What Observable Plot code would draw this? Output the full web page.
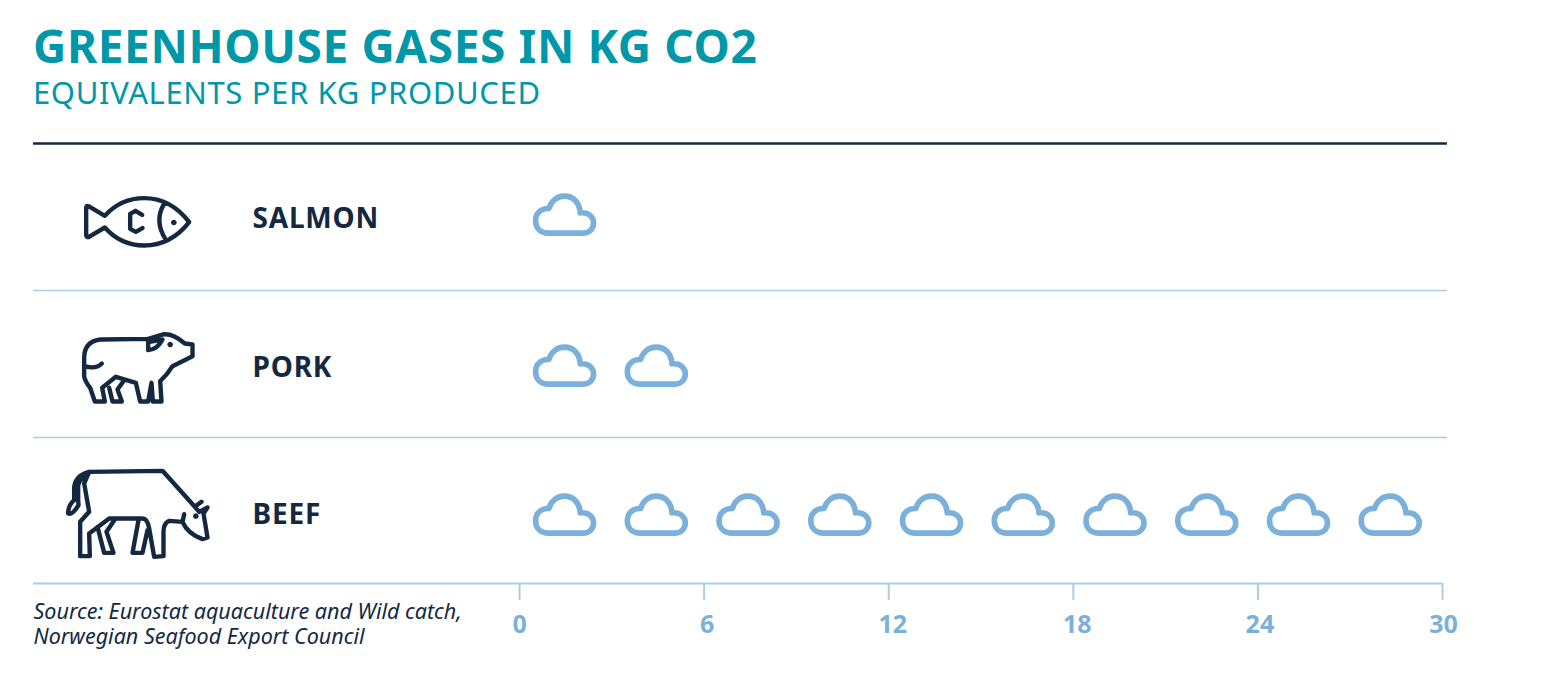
<!DOCTYPE html>
<html>
<head>
<meta charset="utf-8">
<script src="https://cdn.jsdelivr.net/npm/d3@7"></script>
<script src="https://cdn.jsdelivr.net/npm/@observablehq/plot@0.6"></script>
<style>
html,body{margin:0;padding:0;background:#fff;width:1560px;height:676px;overflow:hidden;font-family:"Noto Sans",sans-serif}
#t{position:absolute;left:33px;top:14px;font-size:46px;font-weight:700;color:#0097a9;line-height:62px;white-space:nowrap;letter-spacing:.6px}
#s{position:absolute;left:33px;top:72px;font-size:31px;font-weight:400;color:#0097a9;line-height:40px;white-space:nowrap;letter-spacing:.63px}
#c{position:absolute;left:0;top:130px}
</style>
</head>
<body>
<div id="t">GREENHOUSE GASES IN KG CO2</div>
<div id="s">EQUIVALENTS PER KG PRODUCED</div>
<div id="c"></div>
<script>
const categories = ["SALMON", "PORK", "BEEF"];
const values = [3, 6, 30];
const tickValues = [0, 6, 12, 18, 24, 30];
const unitPerCloud = 3;
const caption = "Source: Eurostat aquaculture and Wild catch,\nNorwegian Seafood Export Council";

const dark = "#14293f", rule = "#a9cde6", blue = "#7bb0da";

// Icon outlines, written in a 3x drawing space around each icon's centre
function icon(cx, cy, d) {
  const t = d.match(/[MLQCZ]|-?[\d.]+/g);
  return {draw(ctx) {
    let i = 0;
    const X = () => (+t[i++] - cx) / 3, Y = () => (+t[i++] - cy) / 3;
    while (i < t.length) {
      const c = t[i++];
      if (c === "M") ctx.moveTo(X(), Y());
      else if (c === "L") ctx.lineTo(X(), Y());
      else if (c === "Q") ctx.quadraticCurveTo(X(), Y(), X(), Y());
      else if (c === "C") ctx.bezierCurveTo(X(), Y(), X(), Y(), X(), Y());
      else ctx.closePath();
    }
  }};
}
const dotAt = (x, y) => ` M ${x - 2} ${y} L ${x + 2} ${y} M ${x} ${y - 2} L ${x} ${y + 2}`;

const cloud = icon(163, 100, "M 115 156 C 90 156 76 140 76 118 C 76 95 95 80 116 82 C 122 60 140 45 162 45 C 190 45 208 65 210 95 C 235 92 250 108 250 125 C 250 145 235 156 218 156 Z");
const fish = icon(290, 150, "M 143 104 L 192 133 Q 240 80 310 80 Q 390 80 445 152 Q 390 222 310 222 Q 240 222 192 168 L 143 197 Q 136 198 136 190 L 136 110 Q 136 101 143 104 Z M 368 100 Q 340 150 375 205 M 304 130 L 284 118 L 268 127 L 268 172 L 285 181 L 305 170" + dotAt(399, 153));
const pig = icon(290, 150, "M 322 58 L 180 60 Q 130 65 130 115 L 130 170 Q 132 185 148 205 L 162 246 L 192 246 L 184 205 L 225 172 L 285 190 L 298 246 L 322 246 L 332 190 L 336 246 L 362 246 L 358 185 Q 380 165 395 140 L 455 110 L 455 75 L 432 72 Q 395 40 365 45 L 322 58 L 322 92 Q 350 90 365 60 L 322 68 M 130 140 Q 165 150 183 132 M 205 205 L 215 246 L 243 246 L 230 210 L 250 182" + dotAt(388, 75));
const cow = icon(290, 190, "M 145 65 L 365 62 L 462 170 L 482 155 M 475 185 L 500 172 L 488 190 L 500 262 L 485 267 Q 440 250 425 215 L 430 192 M 425 215 L 385 212 Q 368 220 368 245 L 368 318 L 340 320 L 325 235 Q 320 205 305 205 L 205 205 L 145 250 L 147 318 L 118 318 L 118 215 L 145 185 L 130 100 L 145 65 Q 105 75 100 110 L 100 150 Q 82 165 82 190 Q 95 195 113 165 L 112 150 L 112 105 Q 118 85 145 65 M 170 230 L 190 308 L 218 308 L 197 245 L 222 208 M 293 210 L 275 308 L 305 308 L 320 240 M 462 170 L 475 185" + dotAt(465, 198));
const icons = [fish, pig, cow];

const rows = categories.map((name, row) => ({name, row, symbol: icons[row]}));
const clouds = categories.flatMap((name, row) =>
  d3.range(values[row] / unitPerCloud).map(i => ({row, i})));

const xStart = -15.8, xRuleEnd = 30.16;
const boundaries = [-0.49, 0.497, 1.483];
const axisLine = 2.463;

// Small per-row and per-tick nudges that the source artwork has
const cloudFirst = 1.463, cloudStep = 2.982;
const cloudDy = [-2, 0, 0];
const labelDy = [3, 3, 1];
const iconOffset = [{dx: 104, dy: 5}, {dx: 104, dy: 4}, {dx: 104, dy: -1}];
const tickLabelDx = [0, 3, 4, 4, 2, 1];

const chart = Plot.plot({
  width: 1560, height: 546,
  marginLeft: 33, marginRight: 118, marginTop: 0, marginBottom: 93,
  x: {domain: [xStart, 30]},
  y: {axis: null, domain: [0, 2], range: [86, 384]},
  style: {fontFamily: '"Noto Sans",sans-serif', background: "transparent", overflow: "visible"},
  marks: [
    Plot.ruleY(boundaries.slice(0, 1), {x1: xStart, x2: xRuleEnd, stroke: dark, strokeWidth: 2.6}),
    Plot.ruleY(boundaries.slice(1), {x1: xStart, x2: xRuleEnd, stroke: rule, strokeWidth: 1.6}),
    Plot.ruleY([axisLine], {x1: xStart, x2: 30, stroke: rule, strokeWidth: 2}),
    ...rows.map((r, i) => Plot.dot([r], {
      x: () => xStart, y: "row", symbol: r.symbol,
      dx: iconOffset[i].dx, dy: iconOffset[i].dy,
      stroke: dark, strokeWidth: 4.4, strokeLinejoin: "round", strokeLinecap: "round", fill: "none"
    })),
    ...rows.map((r, i) => Plot.text([r], {
      x: () => xStart, y: "row", text: "name", dx: 219, dy: labelDy[i],
      textAnchor: "start", fill: dark, fontWeight: 700, fontSize: 28
    })),
    ...categories.map((c, row) => Plot.dot(clouds.filter(d => d.row === row), {
      x: d => cloudFirst + d.i * cloudStep, y: "row", symbol: cloud, dy: cloudDy[row],
      stroke: blue, strokeWidth: 5.6, strokeLinejoin: "round", fill: "none"
    })),
    Plot.axisX(tickValues, {
      anchor: "bottom", tickSize: 17, tickFormat: () => "", label: null,
      stroke: rule, strokeWidth: 2
    }),
    ...tickValues.map((v, i) => Plot.text([v], {
      x: d => d, y: () => axisLine, dy: 42, dx: tickLabelDx[i],
      text: d => String(d), fill: blue, fontSize: 25, fontWeight: 700
    })),
    Plot.text([caption], {
      x: () => xStart, y: () => axisLine, dy: 18,
      textAnchor: "start", lineAnchor: "top", lineHeight: 1.17,
      fill: dark, fontStyle: "italic", fontSize: 21.5
    })
  ]
});
d3.select(chart).selectAll("text")
  .filter(function () { return categories.includes(this.textContent); })
  .style("letter-spacing", "0.8px");
document.getElementById("c").append(chart);
</script>
</body>
</html>
